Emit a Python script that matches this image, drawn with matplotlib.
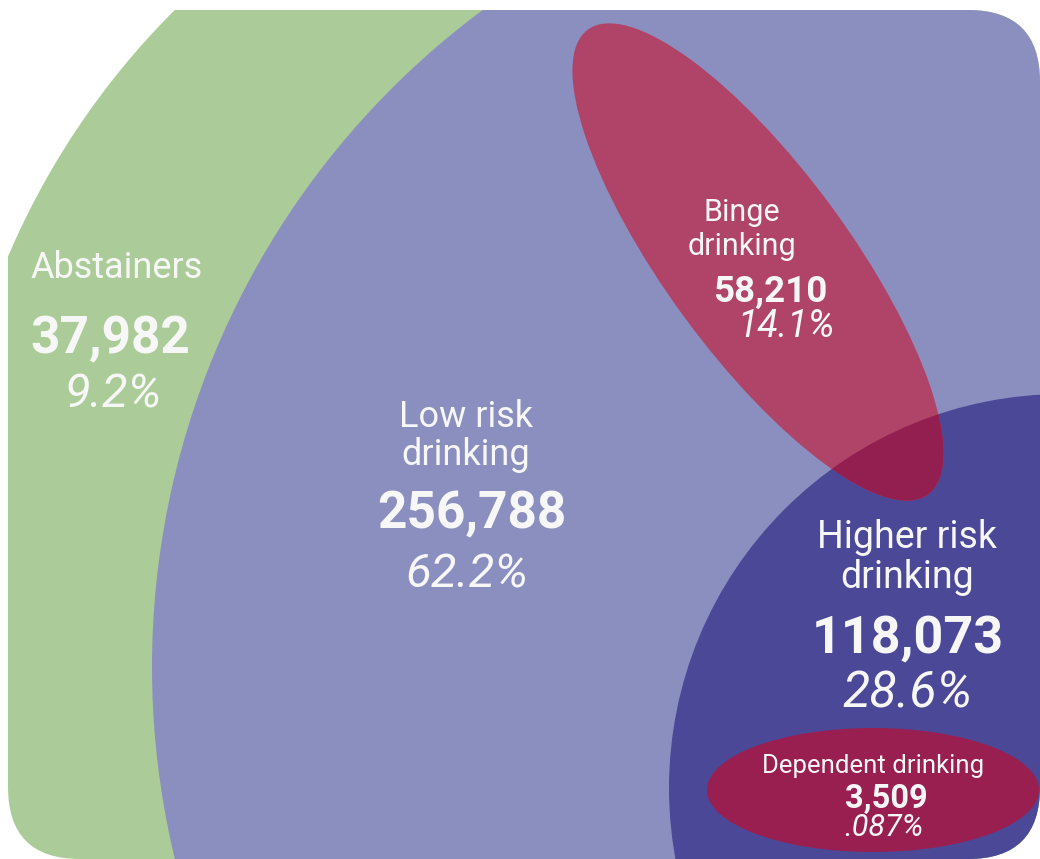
import matplotlib
matplotlib.use("Agg")
import matplotlib.pyplot as plt
from matplotlib.patches import Circle, Ellipse, FancyBboxPatch

# ---- data ----
categories = ["Abstainers", "Low risk\ndrinking", "Binge\ndrinking",
              "Higher risk\ndrinking", "Dependent drinking"]
counts = ["37,982", "256,788", "58,210", "118,073", "3,509"]
percents = ["9.2%", "62.2%", "14.1%", "28.6%", ".087%"]

# ---- style ----
GREEN = "#abcc98"
LAVENDER = "#8b8fbf"
DARKBLUE = "#4b4898"
BINGE = "#b04468"
OVERLAP = "#921f50"
DEPEND = "#991f50"
TXT = "#f7f7f7"

plt.rcParams['font.family'] = ['Roboto', 'DejaVu Sans']

fig = plt.figure(figsize=(10.4, 8.59), dpi=100)
ax = fig.add_axes([0, 0, 1, 1])
ax.set_xlim(0, 1040)
ax.set_ylim(859, 0)
ax.set_aspect('equal')
ax.axis('off')

frame = FancyBboxPatch((8, 10), 1032, 849,
                       boxstyle="round,pad=0,rounding_size=72",
                       facecolor='none', edgecolor='none')
ax.add_patch(frame)

def add(p, clip=frame):
    ax.add_patch(p)
    p.set_clip_path(clip)
    return p

add(Circle((724, 561), 778, facecolor=GREEN, edgecolor='none'))
add(Circle((970, 667), 818, facecolor=LAVENDER, edgecolor='none'))
dark = add(Circle((1063, 788), 394, facecolor=DARKBLUE, edgecolor='none'))
add(Ellipse((758, 262), 576, 184, angle=53.8, facecolor=BINGE, edgecolor='none'))
ov = Ellipse((758, 262), 576, 184, angle=53.8, facecolor=OVERLAP, edgecolor='none')
ax.add_patch(ov)
ov.set_clip_path(dark)
add(Ellipse((873, 790), 332, 124, facecolor=DEPEND, edgecolor='none'))

def txt(x, y, s, size, weight='normal', style='normal', ls=1.15):
    ax.text(x, y, s, ha='center', va='baseline', color=TXT, fontsize=size,
            fontweight=weight, fontstyle=style, linespacing=ls)

# Abstainers
txt(117, 278, categories[0], 26)
txt(110, 353, counts[0], 37, weight='bold')
txt(113, 408, percents[0], 34, style='italic')

# Low risk
txt(466, 465, categories[1], 26, ls=1.08)
txt(472, 528, counts[1], 37, weight='bold')
txt(467, 588, percents[1], 34, style='italic')

# Binge
txt(742, 255, categories[2], 22, ls=1.2)
txt(770, 302, counts[2], 26.5, weight='bold')
txt(786, 337, percents[2], 27, style='italic')

# Higher risk
txt(907, 588, categories[3], 27, ls=1.1)
txt(908, 653, counts[3], 37.5, weight='bold')
txt(907, 708, percents[3], 36, style='italic')

# Dependent
txt(873, 773, categories[4], 18.5)
txt(886, 808, counts[4], 23.5, weight='bold')
txt(884, 836, percents[4], 22, style='italic')

fig.savefig("out.png", dpi=100, facecolor='white')
